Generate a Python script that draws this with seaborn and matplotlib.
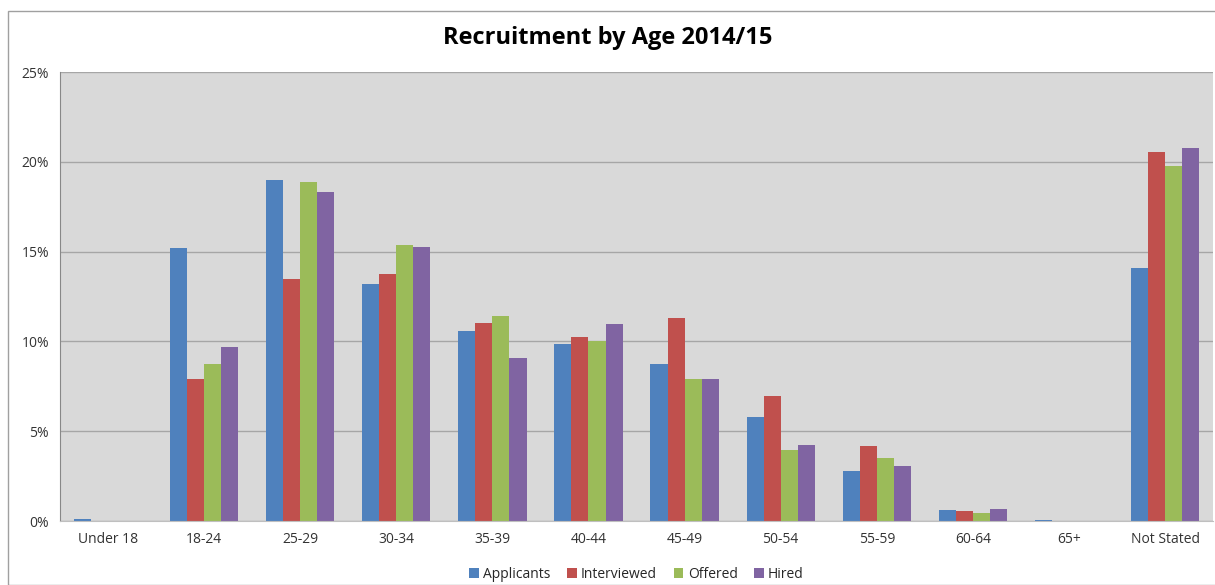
import pandas as pd
import matplotlib.pyplot as plt
import matplotlib.patches as mpatches
from matplotlib.ticker import FuncFormatter
import seaborn as sns

# Recruitment by age group, share of each stage (%)
age_groups = ["Under 18", "18-24", "25-29", "30-34", "35-39", "40-44",
              "45-49", "50-54", "55-59", "60-64", "65+", "Not Stated"]
applicants = [0.1, 15.2, 19.0, 13.2, 10.6, 9.85, 8.75, 5.8, 2.8, 0.6, 0.05, 14.1]
interviewed = [0.0, 7.9, 13.5, 13.75, 11.0, 10.25, 11.3, 6.95, 4.2, 0.55, 0.0, 20.55]
offered = [0.0, 8.75, 18.9, 15.35, 11.4, 10.05, 7.9, 3.95, 3.5, 0.45, 0.0, 19.75]
hired = [0.0, 9.7, 18.3, 15.25, 9.1, 10.95, 7.9, 4.25, 3.05, 0.65, 0.0, 20.75]

stages = ["Applicants", "Interviewed", "Offered", "Hired"]
colors = ["#4F81BD", "#C0504D", "#9BBB59", "#8064A2"]

df = pd.DataFrame({"age": age_groups, "Applicants": applicants,
                   "Interviewed": interviewed, "Offered": offered, "Hired": hired})
long_df = df.melt(id_vars="age", var_name="stage", value_name="pct")

sns.set_style("white")
plt.rcParams["font.family"] = ["Open Sans", "DejaVu Sans"]

fig = plt.figure(figsize=(12.15, 5.85), dpi=100)
ax = fig.add_axes([0.0494, 0.1094, 0.949, 0.7675])

sns.barplot(data=long_df, x="age", y="pct", hue="stage", hue_order=stages,
            palette=colors, width=0.71, ax=ax, linewidth=0, saturation=1)

ax.set_facecolor("#D9D9D9")
ax.set_ylim(0, 25)
ax.set_yticks([0, 5, 10, 15, 20, 25])
ax.yaxis.set_major_formatter(FuncFormatter(lambda v, p: f"{v:.0f}%"))
ax.yaxis.grid(True, color="#A6A6A6", linewidth=1)
ax.set_axisbelow(True)
ax.set_xlim(-0.5, len(age_groups) - 0.5)
ax.set_xlabel("")
ax.set_ylabel("")
ax.tick_params(axis="both", labelsize=10, colors="#333333", length=0, pad=8)
for side in ["top", "right"]:
    ax.spines[side].set_visible(False)
ax.spines["left"].set_color("#888888")
ax.spines["bottom"].set_color("#BFBFBF")

ax.legend(loc="upper center", bbox_to_anchor=(0.5, -0.075), ncol=4, frameon=False,
          fontsize=10, handlelength=0.7, handleheight=0.7, handletextpad=0.3,
          columnspacing=1.2)

fig.suptitle("Recruitment by Age 2014/15", x=0.5, y=0.935, va="center",
             fontsize=17, fontweight="bold", color="black")

# outer chart frame
fig.patches.append(mpatches.Rectangle((8 / 1215, 0), 1.0, 1 - 11 / 585,
                                      transform=fig.transFigure, fill=False,
                                      edgecolor="#A0A0A0", linewidth=1))

fig.savefig("out.png", dpi=100)
